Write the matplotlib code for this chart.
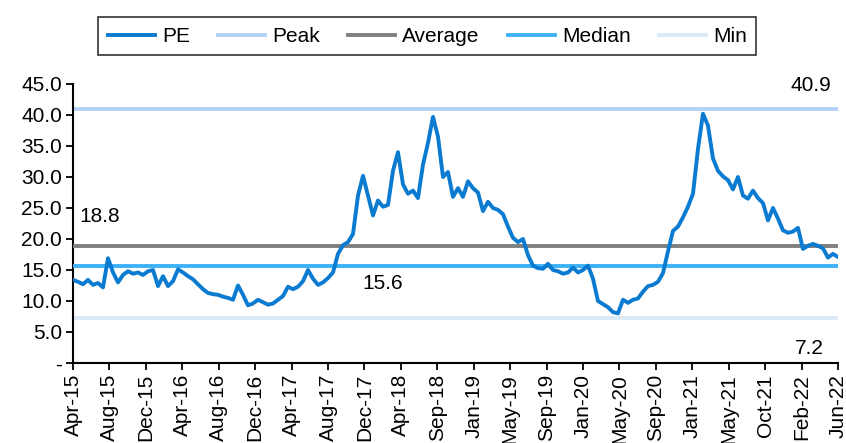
import numpy as np
import matplotlib
matplotlib.use('Agg')
import matplotlib.pyplot as plt

plt.rcParams['font.family'] = ['Liberation Sans', 'DejaVu Sans']

# PE series (evenly spaced trading-day samples, Apr-15 .. Jun-22)
pe = [13.4, 13.1, 12.7, 13.4, 12.6, 12.9, 12.2, 16.9, 14.6, 13.0,
      14.2, 14.8, 14.4, 14.6, 14.2, 14.8, 15.0, 12.4, 14.0, 12.4,
      13.2, 15.1, 14.6, 14.0, 13.5, 12.7, 11.9, 11.3, 11.1, 11.0,
      10.7, 10.5, 10.2, 12.5, 11.0, 9.3, 9.6, 10.2, 9.8, 9.4,
      9.6, 10.2, 10.8, 12.3, 11.9, 12.3, 13.2, 15.0, 13.6, 12.6,
      13.0, 13.7, 14.6, 17.6, 19.0, 19.5, 20.8, 27.0, 30.2, 27.0,
      23.8, 26.2, 25.2, 25.5, 31.0, 34.0, 28.8, 27.3, 27.8, 26.6,
      32.0, 35.5, 39.7, 36.5, 30.0, 30.8, 26.8, 28.2,
      26.8, 29.3, 28.2, 27.5, 24.5, 26.0, 25.0, 24.7, 24.0, 22.0,
      20.2, 19.5, 20.0, 17.4, 15.7, 15.3, 15.2, 16.0, 15.0, 14.8,
      14.4, 14.6, 15.4, 14.6, 15.0, 15.7, 13.6, 10.0, 9.5, 9.0,
      8.2, 8.0, 10.2, 9.7, 10.2, 10.4, 11.5, 12.4, 12.6, 13.1,
      14.5, 18.0, 21.3, 22.0, 23.5, 25.2, 27.3, 34.5, 40.2, 38.3,
      33.0, 31.0, 30.1, 29.5, 28.0, 30.0, 27.0, 26.5, 27.8, 26.6,
      25.8, 23.0, 25.0, 23.3, 21.4, 21.0, 21.2, 21.8, 18.4, 18.9,
      19.2, 18.9, 18.5, 17.0, 17.6, 17.1]

peak = 40.9
average = 18.8
median = 15.6
minimum = 7.2

tick_labels = ['Apr-15', 'Aug-15', 'Dec-15', 'Apr-16', 'Aug-16', 'Dec-16', 'Apr-17',
               'Aug-17', 'Dec-17', 'Apr-18', 'Sep-18', 'Jan-19', 'May-19', 'Sep-19',
               'Jan-20', 'May-20', 'Sep-20', 'Jan-21', 'May-21', 'Oct-21', 'Feb-22', 'Jun-22']

C_PE = '#0a7bd0'
C_PEAK = '#b4d2f3'
C_AVG = '#808080'
C_MED = '#3db1f6'
C_MIN = '#dce9f7'

x = np.arange(len(pe))
n = len(pe) - 1

fig = plt.figure(figsize=(8.46, 4.43), dpi=100)
ax = fig.add_axes([0.0863, 0.1806, 0.9042, 0.6298])

lw = 2.8
ax.plot(x, pe, color=C_PE, lw=lw, label='PE', zorder=5)
ax.plot([0, n], [peak, peak], color=C_PEAK, lw=lw, label='Peak', zorder=2)
ax.plot([0, n], [average, average], color=C_AVG, lw=lw, label='Average', zorder=3)
ax.plot([0, n], [median, median], color=C_MED, lw=lw, label='Median', zorder=3)
ax.plot([0, n], [minimum, minimum], color=C_MIN, lw=lw, label='Min', zorder=2)

fs = 15
ax.text(n * 0.965, 44.8, f'{peak:.1f}', fontsize=fs, ha='center', va='center')
ax.text(n * 0.035, 23.7, f'{average:.1f}', fontsize=fs, ha='center', va='center')
ax.text(n * 0.405, 12.9, f'{median:.1f}', fontsize=fs, ha='center', va='center')
ax.text(n * 0.962, 2.4, f'{minimum:.1f}', fontsize=fs, ha='center', va='center')

ax.set_xlim(0, n)
ax.set_ylim(0, 45)
ax.set_yticks(np.arange(0, 46, 5))
ax.set_yticklabels(['-'] + [f'{v:.1f}' for v in np.arange(5, 46, 5)], fontsize=fs)
ax.set_xticks(np.linspace(0, n, len(tick_labels)))
ax.set_xticklabels(tick_labels, rotation=90, fontsize=fs)
ax.tick_params(axis='both', direction='out', length=5, width=1.3, pad=3)

for s in ['top', 'right']:
    ax.spines[s].set_visible(False)
for s in ['left', 'bottom']:
    ax.spines[s].set_linewidth(1.5)

leg = fig.legend(loc='center', bbox_to_anchor=(0.505, 0.918), ncol=5, fontsize=fs,
                 frameon=True, fancybox=False, edgecolor='black', handlelength=2.25,
                 handletextpad=0.35, columnspacing=1.35, borderpad=0.45)
leg.get_frame().set_linewidth(1.2)

fig.savefig('out.png', dpi=100)
